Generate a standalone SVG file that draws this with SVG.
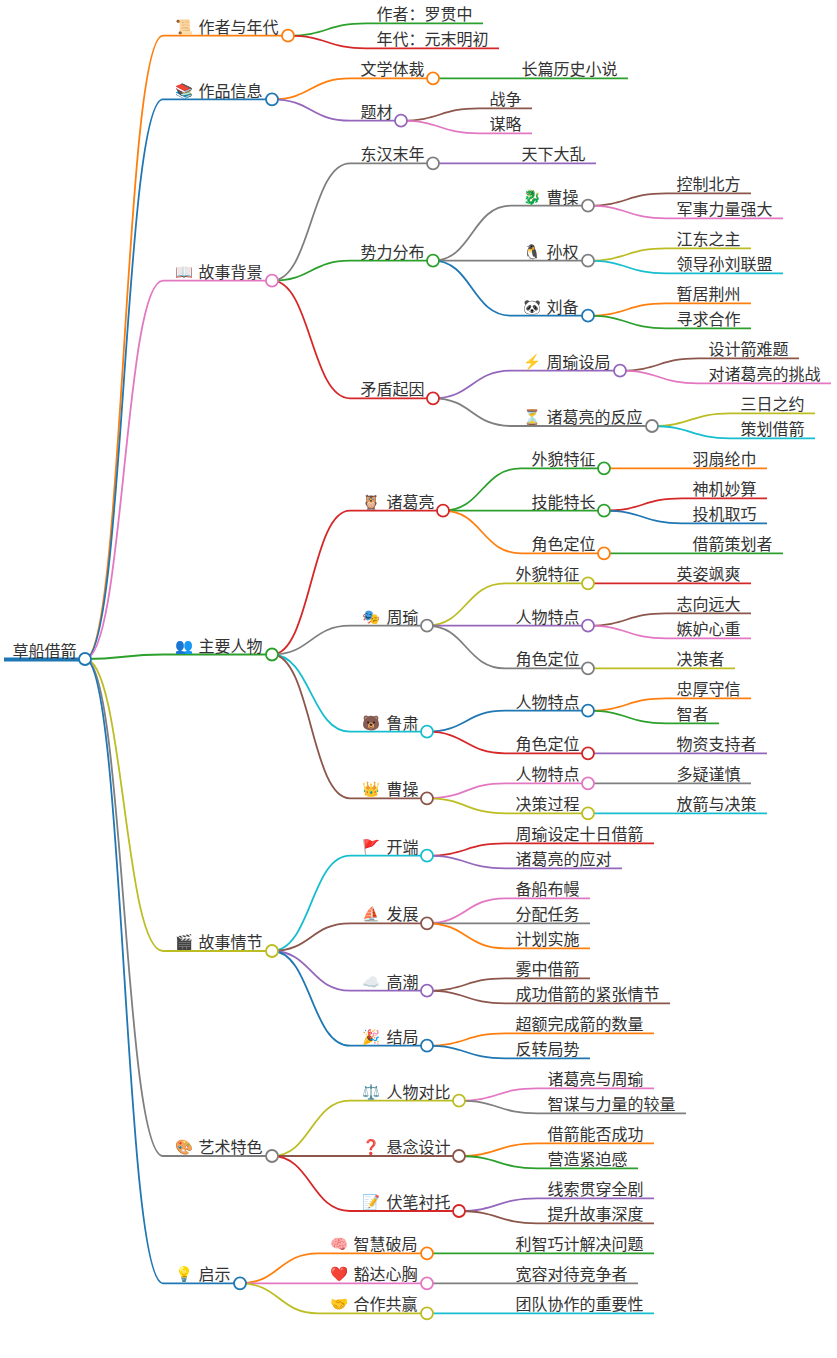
<svg xmlns="http://www.w3.org/2000/svg" width="837" height="1358" viewBox="0 0 837 1358">
<style>
text{font-family:"Noto Sans CJK SC","Noto Sans",sans-serif;font-size:16px;fill:#333;transform:translate(-0.5px,1.5px)}
.e{font-family:"Noto Color Emoji","Noto Sans CJK SC",sans-serif;font-size:14.500px;transform:translate(1.500px,0.500px)}
path,line{fill:none;stroke-width:1.8}
circle{fill:#fff;stroke-width:1.8}
.c0{stroke:#1f77b4}.c1{stroke:#ff7f0e}.c2{stroke:#2ca02c}.c3{stroke:#d62728}.c4{stroke:#9467bd}.c5{stroke:#8c564b}.c6{stroke:#e377c2}.c7{stroke:#7f7f7f}.c8{stroke:#bcbd22}.c9{stroke:#17becf}
</style>
<rect width="837" height="1358" fill="#fff"/>
<g id="connectors">
<path class="c1" d="M85 659C124 659 124 35.700 163 35.700"/>
<path class="c0" d="M85 659C124 659 124 99.300 163 99.300"/>
<path class="c6" d="M85 659C124 659 124 280.700 163 280.700"/>
<path class="c2" d="M85 659C124 659 124 654.500 163 654.500"/>
<path class="c8" d="M85 659C124 659 124 951 163 951"/>
<path class="c7" d="M85 659C124 659 124 1156 163 1156"/>
<path class="c0" d="M85 659C124 659 124 1283.300 163 1283.300"/>
<path class="c2" d="M288 35.700C327 35.700 327 23.300 366 23.300"/>
<path class="c3" d="M288 35.700C327 35.700 327 48.300 366 48.300"/>
<path class="c1" d="M272 99.300C311 99.300 311 78.300 350 78.300"/>
<path class="c4" d="M272 99.300C311 99.300 311 120.700 350 120.700"/>
<path class="c2" d="M433 78.300C472 78.300 472 78.300 511 78.300"/>
<path class="c5" d="M401 120.700C440 120.700 440 108.300 479 108.300"/>
<path class="c6" d="M401 120.700C440 120.700 440 133.300 479 133.300"/>
<path class="c7" d="M272 280.700C311 280.700 311 163.300 350 163.300"/>
<path class="c2" d="M272 280.700C311 280.700 311 260.700 350 260.700"/>
<path class="c3" d="M272 280.700C311 280.700 311 398.300 350 398.300"/>
<path class="c4" d="M433 163.300C472 163.300 472 163.300 511 163.300"/>
<path class="c7" d="M433 260.700C472 260.700 472 205.700 511 205.700"/>
<path class="c7" d="M433 260.700C472 260.700 472 260.700 511 260.700"/>
<path class="c0" d="M433 260.700C472 260.700 472 315.700 511 315.700"/>
<path class="c5" d="M588 205.700C627 205.700 627 193.300 666 193.300"/>
<path class="c6" d="M588 205.700C627 205.700 627 218.300 666 218.300"/>
<path class="c8" d="M588 260.700C627 260.700 627 248.300 666 248.300"/>
<path class="c9" d="M588 260.700C627 260.700 627 273.300 666 273.300"/>
<path class="c1" d="M588 315.700C627 315.700 627 303.300 666 303.300"/>
<path class="c2" d="M588 315.700C627 315.700 627 328.300 666 328.300"/>
<path class="c4" d="M433 398.300C472 398.300 472 370.700 511 370.700"/>
<path class="c7" d="M433 398.300C472 398.300 472 426 511 426"/>
<path class="c5" d="M620 370.700C659 370.700 659 358.300 698 358.300"/>
<path class="c6" d="M620 370.700C659 370.700 659 383.300 698 383.300"/>
<path class="c8" d="M652 426C691 426 691 413.300 730 413.300"/>
<path class="c9" d="M652 426C691 426 691 438.300 730 438.300"/>
<path class="c3" d="M272 654.500C311 654.500 311 510.700 350 510.700"/>
<path class="c7" d="M272 654.500C311 654.500 311 625.700 350 625.700"/>
<path class="c9" d="M272 654.500C311 654.500 311 731.700 350 731.700"/>
<path class="c5" d="M272 654.500C311 654.500 311 798.300 350 798.300"/>
<path class="c2" d="M443 510.700C482 510.700 482 468.300 521 468.300"/>
<path class="c2" d="M443 510.700C482 510.700 482 510.700 521 510.700"/>
<path class="c1" d="M443 510.700C482 510.700 482 553.300 521 553.300"/>
<path class="c1" d="M604 468.300C643 468.300 643 468.300 682 468.300"/>
<path class="c3" d="M604 510.700C643 510.700 643 498.300 682 498.300"/>
<path class="c0" d="M604 510.700C643 510.700 643 523.300 682 523.300"/>
<path class="c2" d="M604 553.300C643 553.300 643 553.300 682 553.300"/>
<path class="c8" d="M427 625.700C466 625.700 466 583.300 505 583.300"/>
<path class="c4" d="M427 625.700C466 625.700 466 625.700 505 625.700"/>
<path class="c7" d="M427 625.700C466 625.700 466 668.300 505 668.300"/>
<path class="c3" d="M588 583.300C627 583.300 627 583.300 666 583.300"/>
<path class="c5" d="M588 625.700C627 625.700 627 613.300 666 613.300"/>
<path class="c6" d="M588 625.700C627 625.700 627 638.300 666 638.300"/>
<path class="c8" d="M588 668.300C627 668.300 627 668.300 666 668.300"/>
<path class="c0" d="M427 731.700C466 731.700 466 710.700 505 710.700"/>
<path class="c3" d="M427 731.700C466 731.700 466 753.300 505 753.300"/>
<path class="c1" d="M588 710.700C627 710.700 627 698.300 666 698.300"/>
<path class="c2" d="M588 710.700C627 710.700 627 723.300 666 723.300"/>
<path class="c4" d="M588 753.300C627 753.300 627 753.300 666 753.300"/>
<path class="c6" d="M427 798.300C466 798.300 466 783.300 505 783.300"/>
<path class="c8" d="M427 798.300C466 798.300 466 813.300 505 813.300"/>
<path class="c7" d="M588 783.300C627 783.300 627 783.300 666 783.300"/>
<path class="c9" d="M588 813.300C627 813.300 627 813.300 666 813.300"/>
<path class="c9" d="M272 951C311 951 311 855.700 350 855.700"/>
<path class="c5" d="M272 951C311 951 311 923.300 350 923.300"/>
<path class="c4" d="M272 951C311 951 311 990.700 350 990.700"/>
<path class="c0" d="M272 951C311 951 311 1045.700 350 1045.700"/>
<path class="c3" d="M427 855.700C466 855.700 466 843.300 505 843.300"/>
<path class="c4" d="M427 855.700C466 855.700 466 868.300 505 868.300"/>
<path class="c6" d="M427 923.300C466 923.300 466 898.300 505 898.300"/>
<path class="c7" d="M427 923.300C466 923.300 466 923.300 505 923.300"/>
<path class="c1" d="M427 923.300C466 923.300 466 948.300 505 948.300"/>
<path class="c5" d="M427 990.700C466 990.700 466 978.300 505 978.300"/>
<path class="c5" d="M427 990.700C466 990.700 466 1003.300 505 1003.300"/>
<path class="c1" d="M427 1045.700C466 1045.700 466 1033.300 505 1033.300"/>
<path class="c0" d="M427 1045.700C466 1045.700 466 1058.300 505 1058.300"/>
<path class="c8" d="M272 1156C311 1156 311 1100.700 350 1100.700"/>
<path class="c5" d="M272 1156C311 1156 311 1156 350 1156"/>
<path class="c3" d="M272 1156C311 1156 311 1211 350 1211"/>
<path class="c6" d="M459 1100.700C498 1100.700 498 1088.300 537 1088.300"/>
<path class="c7" d="M459 1100.700C498 1100.700 498 1113.300 537 1113.300"/>
<path class="c1" d="M459 1156C498 1156 498 1143.300 537 1143.300"/>
<path class="c2" d="M459 1156C498 1156 498 1168.300 537 1168.300"/>
<path class="c4" d="M459 1211C498 1211 498 1198.300 537 1198.300"/>
<path class="c5" d="M459 1211C498 1211 498 1223.300 537 1223.300"/>
<path class="c1" d="M240 1283.300C279 1283.300 279 1253.300 318 1253.300"/>
<path class="c6" d="M240 1283.300C279 1283.300 279 1283.300 318 1283.300"/>
<path class="c8" d="M240 1283.300C279 1283.300 279 1313.300 318 1313.300"/>
<path class="c2" d="M427 1253.300C466 1253.300 466 1253.300 505 1253.300"/>
<path class="c7" d="M427 1283.300C466 1283.300 466 1283.300 505 1283.300"/>
<path class="c9" d="M427 1313.300C466 1313.300 466 1313.300 505 1313.300"/>
</g>
<g id="n0"><line class="c0" style="stroke-width:4" x1="4" x2="85" y1="659.500" y2="659.500"/><circle class="c0" cx="85" cy="659" r="6"/><text x="13" y="655">草船借箭</text></g>
<g id="n1"><line class="c1" x1="163" x2="288" y1="35.700" y2="35.700"/><circle class="c1" cx="288" cy="35.700" r="6"/><text class="e" x="174" y="31">📜</text><text x="199" y="31">作者与年代</text></g>
<g id="n2"><line class="c0" x1="163" x2="272" y1="99.300" y2="99.300"/><circle class="c0" cx="272" cy="99.300" r="6"/><text class="e" x="174" y="95">📚</text><text x="199" y="95">作品信息</text></g>
<g id="n3"><line class="c6" x1="163" x2="272" y1="280.700" y2="280.700"/><circle class="c6" cx="272" cy="280.700" r="6"/><text class="e" x="174" y="276">📖</text><text x="199" y="276">故事背景</text></g>
<g id="n4"><line class="c2" x1="163" x2="272" y1="654.500" y2="654.500"/><circle class="c2" cx="272" cy="654.500" r="6"/><text class="e" x="174" y="650">👥</text><text x="199" y="650">主要人物</text></g>
<g id="n5"><line class="c8" x1="163" x2="272" y1="951" y2="951"/><circle class="c8" cx="272" cy="951" r="6"/><text class="e" x="174" y="946">🎬</text><text x="199" y="946">故事情节</text></g>
<g id="n6"><line class="c7" x1="163" x2="272" y1="1156" y2="1156"/><circle class="c7" cx="272" cy="1156" r="6"/><text class="e" x="174" y="1151">🎨</text><text x="199" y="1151">艺术特色</text></g>
<g id="n7"><line class="c0" x1="163" x2="240" y1="1283.300" y2="1283.300"/><circle class="c0" cx="240" cy="1283.300" r="6"/><text class="e" x="174" y="1278.500">💡</text><text x="199" y="1278.500">启示</text></g>
<g id="n8"><line class="c2" x1="366" x2="483" y1="23.300" y2="23.300"/><text x="377" y="18.500">作者：罗贯中</text></g>
<g id="n9"><line class="c3" x1="366" x2="499" y1="48.300" y2="48.300"/><text x="377" y="43.500">年代：元末明初</text></g>
<g id="n10"><line class="c1" x1="350" x2="433" y1="78.300" y2="78.300"/><circle class="c1" cx="433" cy="78.300" r="6"/><text x="361" y="73.500">文学体裁</text></g>
<g id="n11"><line class="c2" x1="511" x2="628" y1="78.300" y2="78.300"/><text x="522" y="73.500">长篇历史小说</text></g>
<g id="n12"><line class="c4" x1="350" x2="401" y1="120.700" y2="120.700"/><circle class="c4" cx="401" cy="120.700" r="6"/><text x="361" y="116">题材</text></g>
<g id="n13"><line class="c5" x1="479" x2="532" y1="108.300" y2="108.300"/><text x="490" y="103.500">战争</text></g>
<g id="n14"><line class="c6" x1="479" x2="532" y1="133.300" y2="133.300"/><text x="490" y="128.500">谋略</text></g>
<g id="n15"><line class="c7" x1="350" x2="433" y1="163.300" y2="163.300"/><circle class="c7" cx="433" cy="163.300" r="6"/><text x="361" y="158.500">东汉末年</text></g>
<g id="n16"><line class="c4" x1="511" x2="596" y1="163.300" y2="163.300"/><text x="522" y="158.500">天下大乱</text></g>
<g id="n17"><line class="c2" x1="350" x2="433" y1="260.700" y2="260.700"/><circle class="c2" cx="433" cy="260.700" r="6"/><text x="361" y="256">势力分布</text></g>
<g id="n18"><line class="c7" x1="511" x2="588" y1="205.700" y2="205.700"/><circle class="c7" cx="588" cy="205.700" r="6"/><text class="e" x="522" y="201">🐉</text><text x="547" y="201">曹操</text></g>
<g id="n19"><line class="c7" x1="511" x2="588" y1="260.700" y2="260.700"/><circle class="c7" cx="588" cy="260.700" r="6"/><text class="e" x="522" y="256">🐧</text><text x="547" y="256">孙权</text></g>
<g id="n20"><line class="c0" x1="511" x2="588" y1="315.700" y2="315.700"/><circle class="c0" cx="588" cy="315.700" r="6"/><text class="e" x="522" y="311">🐼</text><text x="547" y="311">刘备</text></g>
<g id="n21"><line class="c5" x1="666" x2="751" y1="193.300" y2="193.300"/><text x="677" y="188.500">控制北方</text></g>
<g id="n22"><line class="c6" x1="666" x2="783" y1="218.300" y2="218.300"/><text x="677" y="213.500">军事力量强大</text></g>
<g id="n23"><line class="c8" x1="666" x2="751" y1="248.300" y2="248.300"/><text x="677" y="243.500">江东之主</text></g>
<g id="n24"><line class="c9" x1="666" x2="783" y1="273.300" y2="273.300"/><text x="677" y="268.500">领导孙刘联盟</text></g>
<g id="n25"><line class="c1" x1="666" x2="751" y1="303.300" y2="303.300"/><text x="677" y="298.500">暂居荆州</text></g>
<g id="n26"><line class="c2" x1="666" x2="751" y1="328.300" y2="328.300"/><text x="677" y="323.500">寻求合作</text></g>
<g id="n27"><line class="c3" x1="350" x2="433" y1="398.300" y2="398.300"/><circle class="c3" cx="433" cy="398.300" r="6"/><text x="361" y="393.500">矛盾起因</text></g>
<g id="n28"><line class="c4" x1="511" x2="620" y1="370.700" y2="370.700"/><circle class="c4" cx="620" cy="370.700" r="6"/><text class="e" x="522" y="366">⚡</text><text x="547" y="366">周瑜设局</text></g>
<g id="n29"><line class="c7" x1="511" x2="652" y1="426" y2="426"/><circle class="c7" cx="652" cy="426" r="6"/><text class="e" x="522" y="421">⏳</text><text x="547" y="421">诸葛亮的反应</text></g>
<g id="n30"><line class="c5" x1="698" x2="799" y1="358.300" y2="358.300"/><text x="709" y="353.500">设计箭难题</text></g>
<g id="n31"><line class="c6" x1="698" x2="831" y1="383.300" y2="383.300"/><text x="709" y="378.500">对诸葛亮的挑战</text></g>
<g id="n32"><line class="c8" x1="730" x2="815" y1="413.300" y2="413.300"/><text x="741" y="408.500">三日之约</text></g>
<g id="n33"><line class="c9" x1="730" x2="815" y1="438.300" y2="438.300"/><text x="741" y="433.500">策划借箭</text></g>
<g id="n34"><line class="c3" x1="350" x2="443" y1="510.700" y2="510.700"/><circle class="c3" cx="443" cy="510.700" r="6"/><text class="e" x="361" y="506">🦉</text><text x="387" y="506">诸葛亮</text></g>
<g id="n35"><line class="c2" x1="521" x2="604" y1="468.300" y2="468.300"/><circle class="c2" cx="604" cy="468.300" r="6"/><text x="532" y="463.500">外貌特征</text></g>
<g id="n36"><line class="c2" x1="521" x2="604" y1="510.700" y2="510.700"/><circle class="c2" cx="604" cy="510.700" r="6"/><text x="532" y="506">技能特长</text></g>
<g id="n37"><line class="c1" x1="521" x2="604" y1="553.300" y2="553.300"/><circle class="c1" cx="604" cy="553.300" r="6"/><text x="532" y="548.500">角色定位</text></g>
<g id="n38"><line class="c1" x1="682" x2="767" y1="468.300" y2="468.300"/><text x="693" y="463.500">羽扇纶巾</text></g>
<g id="n39"><line class="c3" x1="682" x2="767" y1="498.300" y2="498.300"/><text x="693" y="493.500">神机妙算</text></g>
<g id="n40"><line class="c0" x1="682" x2="767" y1="523.300" y2="523.300"/><text x="693" y="518.500">投机取巧</text></g>
<g id="n41"><line class="c2" x1="682" x2="783" y1="553.300" y2="553.300"/><text x="693" y="548.500">借箭策划者</text></g>
<g id="n42"><line class="c7" x1="350" x2="427" y1="625.700" y2="625.700"/><circle class="c7" cx="427" cy="625.700" r="6"/><text class="e" x="361" y="621">🎭</text><text x="387" y="621">周瑜</text></g>
<g id="n43"><line class="c8" x1="505" x2="588" y1="583.300" y2="583.300"/><circle class="c8" cx="588" cy="583.300" r="6"/><text x="516" y="578.500">外貌特征</text></g>
<g id="n44"><line class="c4" x1="505" x2="588" y1="625.700" y2="625.700"/><circle class="c4" cx="588" cy="625.700" r="6"/><text x="516" y="621">人物特点</text></g>
<g id="n45"><line class="c7" x1="505" x2="588" y1="668.300" y2="668.300"/><circle class="c7" cx="588" cy="668.300" r="6"/><text x="516" y="663.500">角色定位</text></g>
<g id="n46"><line class="c3" x1="666" x2="751" y1="583.300" y2="583.300"/><text x="677" y="578.500">英姿飒爽</text></g>
<g id="n47"><line class="c5" x1="666" x2="751" y1="613.300" y2="613.300"/><text x="677" y="608.500">志向远大</text></g>
<g id="n48"><line class="c6" x1="666" x2="751" y1="638.300" y2="638.300"/><text x="677" y="633.500">嫉妒心重</text></g>
<g id="n49"><line class="c8" x1="666" x2="735" y1="668.300" y2="668.300"/><text x="677" y="663.500">决策者</text></g>
<g id="n50"><line class="c9" x1="350" x2="427" y1="731.700" y2="731.700"/><circle class="c9" cx="427" cy="731.700" r="6"/><text class="e" x="361" y="727">🐻</text><text x="387" y="727">鲁肃</text></g>
<g id="n51"><line class="c0" x1="505" x2="588" y1="710.700" y2="710.700"/><circle class="c0" cx="588" cy="710.700" r="6"/><text x="516" y="706">人物特点</text></g>
<g id="n52"><line class="c3" x1="505" x2="588" y1="753.300" y2="753.300"/><circle class="c3" cx="588" cy="753.300" r="6"/><text x="516" y="748.500">角色定位</text></g>
<g id="n53"><line class="c1" x1="666" x2="751" y1="698.300" y2="698.300"/><text x="677" y="693.500">忠厚守信</text></g>
<g id="n54"><line class="c2" x1="666" x2="719" y1="723.300" y2="723.300"/><text x="677" y="718.500">智者</text></g>
<g id="n55"><line class="c4" x1="666" x2="767" y1="753.300" y2="753.300"/><text x="677" y="748.500">物资支持者</text></g>
<g id="n56"><line class="c5" x1="350" x2="427" y1="798.300" y2="798.300"/><circle class="c5" cx="427" cy="798.300" r="6"/><text class="e" x="361" y="793.500">👑</text><text x="387" y="793.500">曹操</text></g>
<g id="n57"><line class="c6" x1="505" x2="588" y1="783.300" y2="783.300"/><circle class="c6" cx="588" cy="783.300" r="6"/><text x="516" y="778.500">人物特点</text></g>
<g id="n58"><line class="c8" x1="505" x2="588" y1="813.300" y2="813.300"/><circle class="c8" cx="588" cy="813.300" r="6"/><text x="516" y="808.500">决策过程</text></g>
<g id="n59"><line class="c7" x1="666" x2="751" y1="783.300" y2="783.300"/><text x="677" y="778.500">多疑谨慎</text></g>
<g id="n60"><line class="c9" x1="666" x2="767" y1="813.300" y2="813.300"/><text x="677" y="808.500">放箭与决策</text></g>
<g id="n61"><line class="c9" x1="350" x2="427" y1="855.700" y2="855.700"/><circle class="c9" cx="427" cy="855.700" r="6"/><text class="e" x="361" y="851">🚩</text><text x="387" y="851">开端</text></g>
<g id="n62"><line class="c3" x1="505" x2="654" y1="843.300" y2="843.300"/><text x="516" y="838.500">周瑜设定十日借箭</text></g>
<g id="n63"><line class="c4" x1="505" x2="622" y1="868.300" y2="868.300"/><text x="516" y="863.500">诸葛亮的应对</text></g>
<g id="n64"><line class="c5" x1="350" x2="427" y1="923.300" y2="923.300"/><circle class="c5" cx="427" cy="923.300" r="6"/><text class="e" x="361" y="918.500">⛵</text><text x="387" y="918.500">发展</text></g>
<g id="n65"><line class="c6" x1="505" x2="590" y1="898.300" y2="898.300"/><text x="516" y="893.500">备船布幔</text></g>
<g id="n66"><line class="c7" x1="505" x2="590" y1="923.300" y2="923.300"/><text x="516" y="918.500">分配任务</text></g>
<g id="n67"><line class="c1" x1="505" x2="590" y1="948.300" y2="948.300"/><text x="516" y="943.500">计划实施</text></g>
<g id="n68"><line class="c4" x1="350" x2="427" y1="990.700" y2="990.700"/><circle class="c4" cx="427" cy="990.700" r="6"/><text class="e" x="361" y="986">☁️</text><text x="387" y="986">高潮</text></g>
<g id="n69"><line class="c5" x1="505" x2="590" y1="978.300" y2="978.300"/><text x="516" y="973.500">雾中借箭</text></g>
<g id="n70"><line class="c5" x1="505" x2="670" y1="1003.300" y2="1003.300"/><text x="516" y="998.500">成功借箭的紧张情节</text></g>
<g id="n71"><line class="c0" x1="350" x2="427" y1="1045.700" y2="1045.700"/><circle class="c0" cx="427" cy="1045.700" r="6"/><text class="e" x="361" y="1041">🎉</text><text x="387" y="1041">结局</text></g>
<g id="n72"><line class="c1" x1="505" x2="654" y1="1033.300" y2="1033.300"/><text x="516" y="1028.500">超额完成箭的数量</text></g>
<g id="n73"><line class="c0" x1="505" x2="590" y1="1058.300" y2="1058.300"/><text x="516" y="1053.500">反转局势</text></g>
<g id="n74"><line class="c8" x1="350" x2="459" y1="1100.700" y2="1100.700"/><circle class="c8" cx="459" cy="1100.700" r="6"/><text class="e" x="361" y="1096">⚖️</text><text x="387" y="1096">人物对比</text></g>
<g id="n75"><line class="c5" x1="350" x2="459" y1="1156" y2="1156"/><circle class="c5" cx="459" cy="1156" r="6"/><text class="e" x="361" y="1151">❓</text><text x="387" y="1151">悬念设计</text></g>
<g id="n76"><line class="c3" x1="350" x2="459" y1="1211" y2="1211"/><circle class="c3" cx="459" cy="1211" r="6"/><text class="e" x="361" y="1206">📝</text><text x="387" y="1206">伏笔衬托</text></g>
<g id="n77"><line class="c6" x1="537" x2="654" y1="1088.300" y2="1088.300"/><text x="548" y="1083.500">诸葛亮与周瑜</text></g>
<g id="n78"><line class="c7" x1="537" x2="686" y1="1113.300" y2="1113.300"/><text x="548" y="1108.500">智谋与力量的较量</text></g>
<g id="n79"><line class="c1" x1="537" x2="654" y1="1143.300" y2="1143.300"/><text x="548" y="1138.500">借箭能否成功</text></g>
<g id="n80"><line class="c2" x1="537" x2="638" y1="1168.300" y2="1168.300"/><text x="548" y="1163.500">营造紧迫感</text></g>
<g id="n81"><line class="c4" x1="537" x2="654" y1="1198.300" y2="1198.300"/><text x="548" y="1193.500">线索贯穿全剧</text></g>
<g id="n82"><line class="c5" x1="537" x2="654" y1="1223.300" y2="1223.300"/><text x="548" y="1218.500">提升故事深度</text></g>
<g id="n83"><line class="c1" x1="318" x2="427" y1="1253.300" y2="1253.300"/><circle class="c1" cx="427" cy="1253.300" r="6"/><text class="e" x="329" y="1248.500">🧠</text><text x="354" y="1248.500">智慧破局</text></g>
<g id="n84"><line class="c6" x1="318" x2="427" y1="1283.300" y2="1283.300"/><circle class="c6" cx="427" cy="1283.300" r="6"/><text class="e" x="329" y="1278.500">❤️</text><text x="354" y="1278.500">豁达心胸</text></g>
<g id="n85"><line class="c8" x1="318" x2="427" y1="1313.300" y2="1313.300"/><circle class="c8" cx="427" cy="1313.300" r="6"/><text class="e" x="329" y="1308.500">🤝</text><text x="354" y="1308.500">合作共赢</text></g>
<g id="n86"><line class="c2" x1="505" x2="654" y1="1253.300" y2="1253.300"/><text x="516" y="1248.500">利智巧计解决问题</text></g>
<g id="n87"><line class="c7" x1="505" x2="638" y1="1283.300" y2="1283.300"/><text x="516" y="1278.500">宽容对待竞争者</text></g>
<g id="n88"><line class="c9" x1="505" x2="654" y1="1313.300" y2="1313.300"/><text x="516" y="1308.500">团队协作的重要性</text></g>
</svg>
